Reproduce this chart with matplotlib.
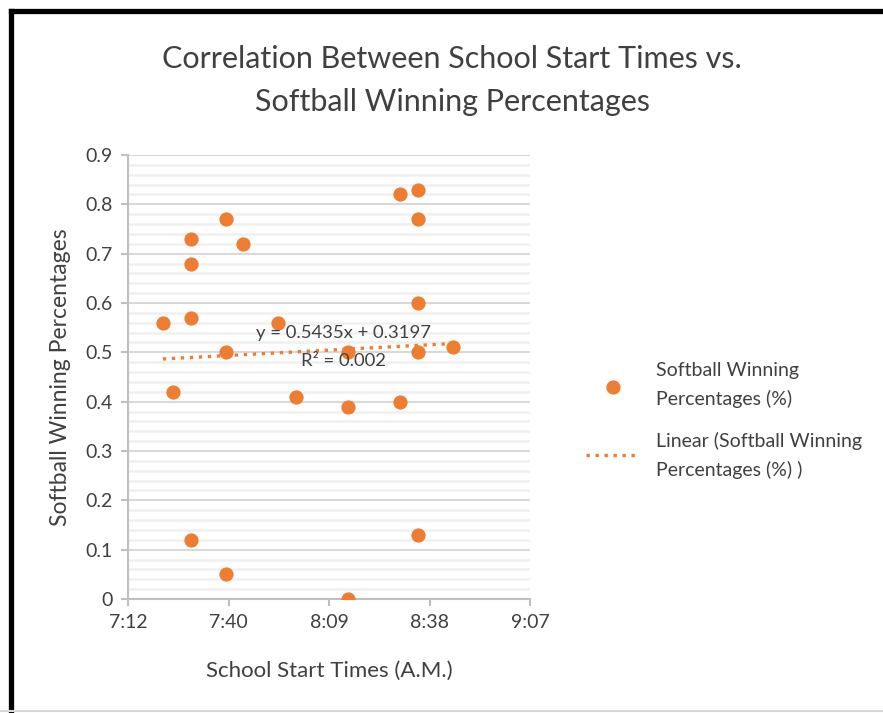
import matplotlib

matplotlib.use("Agg")
import matplotlib.pyplot as plt
from matplotlib.lines import Line2D
from matplotlib.ticker import FuncFormatter, MultipleLocator
import numpy as np

plt.rcParams["font.family"] = ["Lato", "DejaVu Sans"]

start_times = ["7:22", "7:25", "7:30", "7:30", "7:30", "7:30", "7:40", "7:40",
               "7:40", "7:45", "7:55", "8:00", "8:15", "8:15", "8:15", "8:30",
               "8:30", "8:35", "8:35", "8:35", "8:35", "8:35", "8:45"]
win_pct = [0.56, 0.42, 0.73, 0.68, 0.57, 0.12, 0.77, 0.50, 0.05, 0.72, 0.56,
           0.41, 0.50, 0.39, 0.00, 0.82, 0.40, 0.83, 0.77, 0.60, 0.50, 0.13, 0.51]
# Excel trendline (x in fraction of a day)
slope, intercept, r2 = 0.5435, 0.3197, 0.002

ORANGE = "#ED7D31"
TXT = "#404040"


def day_frac(t):
    h, m = t.split(":")
    return (int(h) * 60 + int(m)) / 1440


def fmt_time(v, _pos):
    mins = int(v * 1440 + 1e-6)
    return f"{mins // 60}:{mins % 60:02d}"


x = np.array([day_frac(t) for t in start_times])
y = np.array(win_pct)

fig = plt.figure(figsize=(8.83, 7.13), dpi=100)
ax = fig.add_axes([128 / 883, 1 - 599 / 713, 402 / 883, 444 / 713])

ax.scatter(x, y, s=105, color=ORANGE, zorder=3, linewidths=0,
           label="Softball Winning\nPercentages (%)")
xs = np.array([x.min(), x.max()])
ax.plot(xs, slope * xs + intercept, color=ORANGE, lw=2.4, ls=(0, (1, 1.7)),
        zorder=4, label="Linear (Softball Winning\nPercentages (%) )")

ax.set_xlim(0.30, 0.38)
ax.set_ylim(0, 0.9)
ax.xaxis.set_major_locator(MultipleLocator(0.02))
ax.xaxis.set_major_formatter(FuncFormatter(fmt_time))
ax.yaxis.set_major_locator(MultipleLocator(0.1))
ax.yaxis.set_minor_locator(MultipleLocator(0.02))
ax.yaxis.set_major_formatter(FuncFormatter(lambda v, p: "0" if v == 0 else f"{v:.1f}"))

ax.grid(True, axis="y", which="major", color="#d9d9d9", lw=1.5, zorder=1)
ax.grid(True, axis="y", which="minor", color="#f0f0f0", lw=1.8, zorder=0)
for side in ("top", "right"):
    ax.spines[side].set_visible(False)
for side in ("left", "bottom"):
    ax.spines[side].set_color("#bfbfbf")
    ax.spines[side].set_linewidth(1.5)
ax.tick_params(axis="both", which="major", length=5, width=1.5, color="#bfbfbf",
               labelcolor=TXT, labelsize=14, pad=6)
ax.tick_params(axis="y", which="minor", length=0)

ax.set_xlabel("School Start Times (A.M.)", fontsize=16, color=TXT, labelpad=21)
ax.set_ylabel("Softball Winning Percentages", fontsize=16.5, color=TXT, labelpad=10)

ax.text(0.535, 0.6, f"y = {slope}x + {intercept}", transform=ax.transAxes,
        ha="center", va="center", fontsize=13.3, color=TXT, zorder=5)
ax.text(0.535, 0.537, f"R² = {r2}", transform=ax.transAxes,
        ha="center", va="center", fontsize=13.3, color=TXT, zorder=5)

fig.text(452 / 883, 1 - 59 / 713, "Correlation Between School Start Times vs.",
         ha="center", va="center", fontsize=22, color=TXT)
fig.text(452 / 883, 1 - 102 / 713, "Softball Winning Percentages",
         ha="center", va="center", fontsize=22, color=TXT)

fig.legend(loc="upper left", bbox_to_anchor=(586 / 883, 1 - 362 / 713),
           frameon=False, fontsize=14, labelcolor=TXT, handlelength=2.8,
           handletextpad=0.8, labelspacing=1.25, borderpad=0, borderaxespad=0)
for t in fig.legends[0].get_texts():
    t.set_linespacing(1.7)

# screenshot frame
fig.add_artist(Line2D([10.5 / 883, 1], [1 - 10.5 / 713] * 2, color="black",
                      lw=3.8, transform=fig.transFigure))
fig.add_artist(Line2D([10.5 / 883] * 2, [1 - 10.5 / 713, 0], color="black",
                      lw=3.8, transform=fig.transFigure))
fig.add_artist(Line2D([0, 1], [1 - 711 / 713] * 2, color="#d9d9d9",
                      lw=1.5, transform=fig.transFigure))

fig.savefig("out.png", dpi=100)
